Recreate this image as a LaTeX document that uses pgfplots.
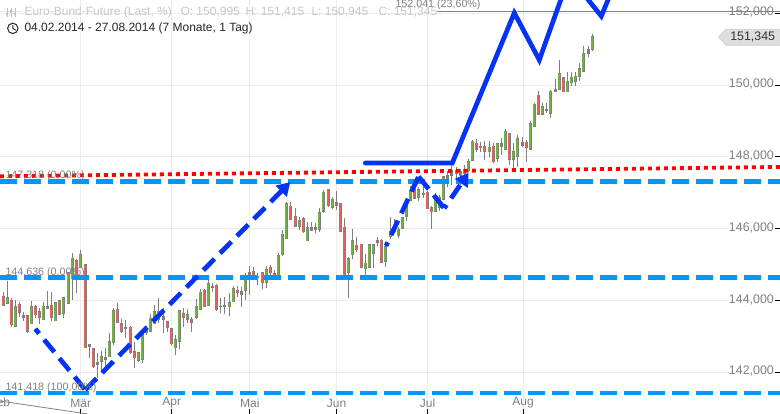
\documentclass[border=0pt]{standalone}
\usepackage{pgfplots}
\pgfplotsset{compat=1.18}
\usepackage{pgfplotstable}
\usepackage{fontspec}
\setmainfont{Liberation Sans}
\usetikzlibrary{arrows.meta}
\definecolor{cgreen}{HTML}{6FB33C}
\definecolor{cred}{HTML}{E8605C}
\definecolor{cwick}{HTML}{7F7F7F}
\definecolor{clevel}{HTML}{0096FF}
\definecolor{cblue}{HTML}{0433F5}
\definecolor{cgrid}{HTML}{ECECEC}
\definecolor{ctext}{HTML}{808080}
\pgfplotstableread{
x h t b l
7 144.54 144.07 143.93 143.93
15 144.01 143.82 143.29 143.26
31 143.99 143.82 143.35 143.35
43 143.96 143.84 143.46 143.46
55 143.96 143.93 143.43 143.43
63 144.10 144.07 143.65 143.51
68 144.77 144.77 143.93 143.93
72 145.32 145.18 144.60 144.01
80 145.41 145.27 144.93 144.93
101 142.59 142.43 142.31 141.98
109 143.10 142.85 142.43 142.43
113 143.79 143.71 142.82 142.76
138 142.57 142.54 142.34 142.29
142 143.18 143.12 142.37 142.26
150 143.63 143.51 143.15 143.15
154 143.87 143.68 143.35 143.35
158 144.07 143.68 143.46 143.37
175 143.04 142.90 142.68 142.48
179 143.74 143.71 142.87 142.65
187 143.76 143.60 143.48 143.37
196 144.04 143.84 143.54 143.48
200 144.32 144.23 143.76 143.74
208 144.60 144.46 143.87 143.84
229 144.21 143.93 143.82 143.57
233 144.40 144.32 143.96 143.96
245 144.77 144.60 144.29 144.01
266 144.96 144.85 144.51 144.35
278 145.32 145.24 144.68 144.65
282 145.96 145.85 145.27 145.24
286 146.74 146.69 145.74 145.74
299 146.33 146.24 146.07 145.96
307 146.19 146.02 145.66 145.66
319 146.58 146.44 145.99 145.91
323 147.08 147.02 146.49 146.44
332 146.88 146.82 146.60 146.55
348 145.21 145.16 144.79 144.07
352 145.99 145.66 145.27 145.16
365 145.30 145.04 144.88 144.65
369 145.55 145.55 144.93 144.90
373 145.55 145.55 145.32 144.90
385 145.55 145.49 145.10 144.93
390 146.33 145.91 145.77 145.71
398 146.04 145.99 145.80 145.74
402 146.30 146.30 146.02 145.99
406 146.72 146.66 146.33 146.22
410 147.19 147.05 146.80 146.77
418 147.16 147.08 146.88 146.77
435 146.99 146.88 146.49 146.49
439 146.94 146.88 146.60 146.49
443 147.47 147.44 146.82 146.82
468 147.94 147.86 147.61 147.58
472 148.47 148.44 147.91 147.88
489 148.44 148.27 148.14 148.00
497 148.39 148.36 147.97 147.86
505 148.78 148.72 148.22 148.19
513 148.39 148.14 147.94 147.69
517 148.61 148.50 148.00 147.72
530 149.00 148.92 148.22 148.19
534 149.50 149.47 148.86 148.86
542 149.50 149.39 149.19 149.17
550 149.86 149.83 149.22 149.08
559 150.70 150.31 149.89 149.86
567 150.36 150.11 149.81 149.81
571 150.36 150.20 150.06 149.97
575 150.36 150.25 150.11 149.97
579 150.61 150.45 150.25 150.11
583 151.09 150.89 150.39 150.39
592 151.415 151.345 150.995 150.945
}\greendata
\pgfplotstableread{
x h t b l
3 144.23 144.12 143.87 143.84
11 144.07 144.01 143.32 143.26
19 143.96 143.90 143.68 143.54
27 143.60 143.57 143.15 143.10
35 143.87 143.84 143.60 143.51
39 143.79 143.68 143.54 143.35
51 144.23 143.87 143.54 143.43
59 144.01 143.99 143.60 143.60
76 145.16 145.10 144.68 144.21
85 144.99 144.99 142.68 142.68
93 142.68 142.65 142.17 142.12
117 143.93 143.76 143.40 143.37
121 143.48 143.35 143.15 143.10
130 143.29 143.26 142.54 142.51
134 142.85 142.57 142.40 142.12
167 143.40 143.40 143.26 143.12
171 143.23 143.21 142.79 142.76
183 143.79 143.65 143.54 143.26
191 143.54 143.48 143.40 143.12
204 144.32 144.29 143.84 143.82
216 144.46 144.43 143.76 143.71
237 144.40 144.29 144.21 144.10
253 144.93 144.82 144.65 144.57
262 144.79 144.77 144.49 144.32
270 144.99 144.93 144.79 144.71
274 144.85 144.74 144.65 144.63
290 146.74 146.63 146.27 146.24
295 146.58 146.33 146.07 146.07
303 146.33 146.27 145.91 145.88
328 147.10 147.08 146.66 146.60
340 146.69 146.69 145.93 145.91
344 146.30 146.04 144.65 144.63
356 145.77 145.52 145.41 145.35
361 145.57 145.57 144.93 144.93
381 145.71 145.68 145.07 145.04
414 147.16 147.08 146.85 146.82
427 147.05 147.02 146.55 146.55
431 146.63 146.60 146.49 145.99
456 147.72 147.63 147.55 147.30
464 147.77 147.66 147.55 147.49
476 148.50 148.36 148.22 148.14
480 148.41 148.30 148.25 148.14
484 148.44 148.30 148.14 147.91
493 148.39 148.30 147.86 147.83
509 148.67 148.64 147.94 147.77
526 148.47 148.41 148.27 147.86
538 149.83 149.72 149.19 149.17
563 150.22 150.20 149.81 149.81
}\reddata
\pgfplotstableread{
x h t b l
23 143.68 143.59 143.54 143.43
47 144.26 143.82 143.78 143.76
89 142.79 142.76 142.73 142.40
97 142.54 142.26 142.23 141.84
105 142.68 142.40 142.37 141.98
125 143.46 143.26 143.23 142.96
146 143.29 143.15 143.10 143.04
163 143.79 143.54 143.48 143.10
212 144.49 144.38 144.35 144.23
220 144.07 143.84 143.82 143.65
224 144.10 143.87 143.82 143.63
241 144.38 144.26 144.18 143.82
249 144.96 144.77 144.71 144.15
257 144.77 144.68 144.63 144.43
311 146.19 146.02 145.96 145.96
315 146.16 146.04 145.99 145.88
336 147.05 146.74 146.66 146.52
377 145.77 145.66 145.63 145.52
394 146.27 145.99 145.93 145.88
423 147.27 146.99 146.96 146.85
447 147.60 147.47 147.38 147.16
451 147.77 147.63 147.49 147.22
460 147.66 147.58 147.49 147.22
501 148.53 148.36 148.30 148.05
522 148.55 148.41 148.33 148.27
546 149.50 149.31 149.28 149.22
555 150.17 149.89 149.83 149.81
588 151.09 150.98 150.89 150.78
}\dojidata
\newcommand{\wicks}[1]{%
  \addplot[draw=none,mark=none,forget plot,error bars/.cd,y dir=minus,y explicit,error mark=none,
    error bar style={cwick,line width=1pt}]
    table[x=x,y=h,y error minus expr=\thisrow{h}-\thisrow{l}]{#1};}
\newcommand{\bodies}[2]{%
  \addplot[draw=none,mark=none,forget plot,error bars/.cd,y dir=minus,y explicit,error mark=none,
    error bar style={cwick,line width=3.4pt}]
    table[x=x,y expr=\thisrow{t}+0.015,y error minus expr=\thisrow{t}-\thisrow{b}+0.03]{#1};
  \addplot[draw=none,mark=none,forget plot,error bars/.cd,y dir=minus,y explicit,error mark=none,
    error bar style={#2,line width=1.9pt}]
    table[x=x,y=t,y error minus expr=\thisrow{t}-\thisrow{b}]{#1};}
\tikzset{lvl/.style={clevel,line width=4.4pt,dash pattern=on 16.5pt off 7.5pt},
  lab/.style={ctext,font=\fontsize{10.7}{13}\selectfont,anchor=west,inner sep=0pt},
  hdr/.style={anchor=west,inner sep=0pt,font=\fontsize{12}{14}\selectfont},
  blu/.style={cblue,line width=4.7pt,dash pattern=on 16pt off 8pt}}
\begin{document}
\begin{tikzpicture}
\path[use as bounding box] (0,0) rectangle (780pt,414pt);
\begin{axis}[
  at={(0,0)},anchor=south west,
  scale only axis,width=780pt,height=414pt,
  xmin=-0.3,xmax=779.7,ymin=140.838,ymax=152.3705,
  axis line style={draw=none},
  xtick={80.5,171.5,249.5,336.3,427.3,522.7},
  xticklabels={Mär,Apr,Mai,Jun,Jul,Aug},
  ytick={142,144,146,148,150,152},
  yticklabels={{142,000},{144,000},{146,000},{148,000},{150,000},{152,000}},
  xtick pos=bottom,ytick pos=right,
  tick align=inside,
  major tick length=5pt,
  tick style={black,line width=0.9pt},
  grid=major,
  major grid style={cgrid,line width=0.9pt},
  xticklabel style={ctext,font=\fontsize{12}{14}\selectfont,anchor=south,yshift=6pt,inner sep=0pt},
  yticklabel style={ctext,font=\fontsize{12.4}{14}\selectfont,anchor=east,xshift=-6pt,yshift=1pt,inner sep=0pt,fill=white},
  clip=true,
]
\wicks{\greendata}\wicks{\reddata}\wicks{\dojidata}
\bodies{\greendata}{cgreen}
\bodies{\reddata}{cred}
\bodies{\dojidata}{cwick}
% levels
\addplot[forget plot,lvl] coordinates {(-0.3,147.318)(780,147.318)};
\addplot[forget plot,lvl] coordinates {(-0.3,144.636)(780,144.636)};
\addplot[forget plot,lvl] coordinates {(-0.3,141.418)(780,141.418)};
\addplot[forget plot,color=black!10,line width=1pt] coordinates {(-0.3,152.041)(22,152.041)};
\addplot[forget plot,color=ctext,line width=1pt] coordinates {(437,152.041)(780,152.041)};
\addplot[forget plot,color=ctext,line width=0.8pt] coordinates {(-0.3,141.20)(87,140.84)};
\addplot[forget plot,color=red,line width=3.8pt,dash pattern=on 4pt off 4pt] coordinates {(-0.3,147.46)(780,147.72)};
% drawn lines
\addplot[forget plot,blu,dash phase=10pt] coordinates {(35,143.21)(85,141.51)};
\addplot[forget plot,blu,-{Triangle[length=13pt,width=15pt]}] coordinates {(85,141.51)(290,147.30)};
\addplot[forget plot,blu,dash phase=12pt] coordinates {(385.7,145.52)(418.3,147.45)};
\addplot[forget plot,blu] coordinates {(418.3,147.45)(444,146.57)};
\addplot[forget plot,blu,dash phase=12pt,-{Triangle[length=13pt,width=15pt]}] coordinates {(444,146.57)(468.3,147.56)};
\addplot[forget plot,cblue,line width=4.7pt,line cap=round] coordinates {(365,147.83)(452,147.83)(514,152.01)(539,150.70)(569,153.04)(601,151.92)(620,153.21)};
% level labels
\node[lab] at (axis cs:5,147.48) {147,318 (0,00\%)};
\node[lab] at (axis cs:5,144.77) {144,636 (0,00\%)};
\node[lab] at (axis cs:5,141.57) {141,418 (100,00\%)};
\node[lab] at (axis cs:395,152.24) {152,041 (23,60\%)};
\node[ctext,font=\fontsize{12}{14}\selectfont,inner sep=0pt] at (axis cs:-0.5,141.17) {Feb};
% header
\node[hdr,text=black!22] at (axis cs:24,152.03) {Euro-Bund-Future (Last, \%)};
\node[hdr,text=black!22] at (axis cs:180,152.03) {O: 150,995};
\node[hdr,text=black!22] at (axis cs:245,152.03) {H: 151,415};
\node[hdr,text=black!22] at (axis cs:311,152.03) {L: 150,945};
\node[hdr,text=black!22] at (axis cs:378,152.03) {C: 151,345};
\node[hdr,text=black!85] at (axis cs:24,151.59) {04.02.2014 - 27.08.2014 (7 Monate, 1 Tag)};
% clock icon
\draw[black!85,line width=1pt] (axis cs:12.5,151.58) circle (5.2pt);
\draw[black!85,line width=0.9pt] (axis cs:12.5,151.67) -- (axis cs:12.5,151.58) -- (axis cs:15.5,151.53);
% series icon
\draw[black!25,line width=0.9pt] (axis cs:7,152.16)--(axis cs:7,151.90) (axis cs:11,152.16)--(axis cs:11,151.90) (axis cs:15,152.16)--(axis cs:15,151.90);
\draw[black!25,line width=2.2pt] (axis cs:7,152.02)--(axis cs:7,151.95) (axis cs:11,152.09)--(axis cs:11,152.0) (axis cs:15,152.02)--(axis cs:15,151.95);
% price tag
\filldraw[black!13,draw=black!20,line width=0.6pt] (axis cs:718,151.34) -- (axis cs:726,151.56) -- (axis cs:781,151.56) -- (axis cs:781,151.11) -- (axis cs:726,151.11) -- cycle;
\node[anchor=east,inner sep=0pt,font=\fontsize{12.4}{14}\selectfont,text=black!80] at (axis cs:775,151.34) {151,345};
\end{axis}
\end{tikzpicture}
\end{document}
